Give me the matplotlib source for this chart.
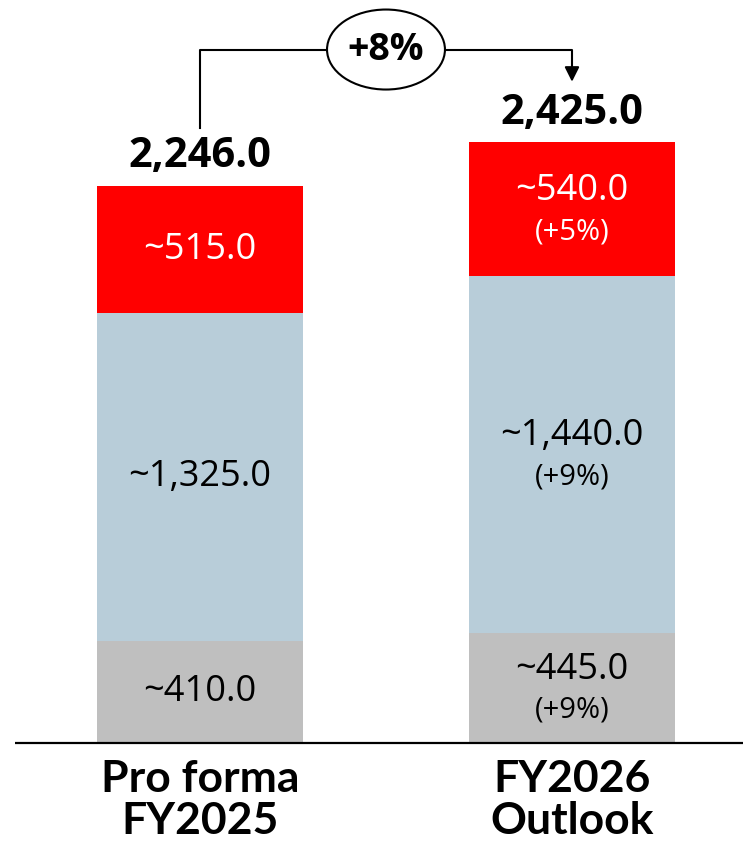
import matplotlib.pyplot as plt
from matplotlib.patches import Ellipse

# ---------------------------------------------------------------------------
# Chart data
# ---------------------------------------------------------------------------
categories = ["Pro forma\nFY2025", "FY2026\nOutlook"]
totals = [2246.0, 2425.0]
total_labels = ["2,246.0", "2,425.0"]

bottom_values = [410.0, 445.0]
middle_values = [1325.0, 1440.0]
top_values = [515.0, 540.0]

bottom_labels = ["~410.0", "~445.0"]
middle_labels = ["~1,325.0", "~1,440.0"]
top_labels = ["~515.0", "~540.0"]

bottom_growth = [None, "(+9%)"]
middle_growth = [None, "(+9%)"]
top_growth = [None, "(+5%)"]

growth_total = "+8%"

COLOR_BOTTOM = "#BFBFBF"
COLOR_MIDDLE = "#B8CDD9"
COLOR_TOP = "#FF0000"

FONT = ["Open Sans", "DejaVu Sans"]
CAT_FONT = ["Lato", "DejaVu Sans"]

plt.rcParams["font.family"] = FONT

fig = plt.figure(figsize=(7.43, 8.42), dpi=100)
ax = fig.add_axes([0, 99 / 842, 1, 743 / 842])
ax.set_xlim(-0.5376, 1.4597)
ax.set_ylim(0, 3000)
ax.axis("off")

x_pos = [0, 1]
bar_width = 0.554


def _segment_label(x, y_center, main_text, sub_text, color):
    """Write the value (and optional growth) label in the middle of a segment."""
    if sub_text is None:
        ax.annotate(main_text, (x, y_center), xytext=(0, 0), textcoords="offset points",
                    ha="center", va="center", fontsize=26, color=color)
    else:
        ax.annotate(main_text, (x, y_center), xytext=(0, 13), textcoords="offset points",
                    ha="center", va="center", fontsize=26, color=color)
        ax.annotate(sub_text, (x, y_center), xytext=(0, -16), textcoords="offset points",
                    ha="center", va="center", fontsize=21, color=color)


# --- stacked bars ---
ax.bar(x_pos, bottom_values, width=bar_width, color=COLOR_BOTTOM)
ax.bar(x_pos, middle_values, width=bar_width, bottom=bottom_values, color=COLOR_MIDDLE)
top_bottoms = [b + m for b, m in zip(bottom_values, middle_values)]
ax.bar(x_pos, top_values, width=bar_width, bottom=top_bottoms, color=COLOR_TOP)

for i, x in enumerate(x_pos):
    _segment_label(x, bottom_values[i] / 2, bottom_labels[i], bottom_growth[i], "black")
    _segment_label(x, bottom_values[i] + middle_values[i] / 2, middle_labels[i],
                   middle_growth[i], "black")
    _segment_label(x, top_bottoms[i] + top_values[i] / 2, top_labels[i],
                   top_growth[i], "white")

    bar_top = top_bottoms[i] + top_values[i]
    ax.annotate(total_labels[i], (x, bar_top), xytext=(0, 21), textcoords="offset points",
                ha="center", va="center", fontsize=30, fontweight="bold", color="black")

    ax.annotate(categories[i], (x, 0), xytext=(0, -41), textcoords="offset points",
                ha="center", va="center", fontsize=32, fontweight="bold",
                family=CAT_FONT, linespacing=1.05, annotation_clip=False)

# --- baseline ---
ax.plot([-0.497, 1.4597], [0, 0], color="black", linewidth=1.6, clip_on=False,
        solid_capstyle="butt")

# --- growth bracket with ellipse ---
bracket_y = 2800
left_x = x_pos[0]
right_x = x_pos[1]
ax.plot([left_x, left_x, right_x, right_x],
        [totals[0] + 238, bracket_y, bracket_y, totals[1] + 300],
        color="black", linewidth=1.5)
ax.annotate("", xy=(right_x, totals[1] + 245), xytext=(right_x, totals[1] + 310),
            arrowprops=dict(arrowstyle="-|>", color="black", lw=1.5,
                            mutation_scale=22, shrinkA=0, shrinkB=0))

ellipse_x = 0.5
ax.add_patch(Ellipse((ellipse_x, bracket_y), width=0.317, height=323,
                     facecolor="white", edgecolor="black", linewidth=1.5, zorder=3))
ax.text(ellipse_x, bracket_y, growth_total, ha="center", va="center",
        fontsize=27, fontweight="bold", zorder=4)

fig.savefig("out.png", dpi=100)
plt.close(fig)
